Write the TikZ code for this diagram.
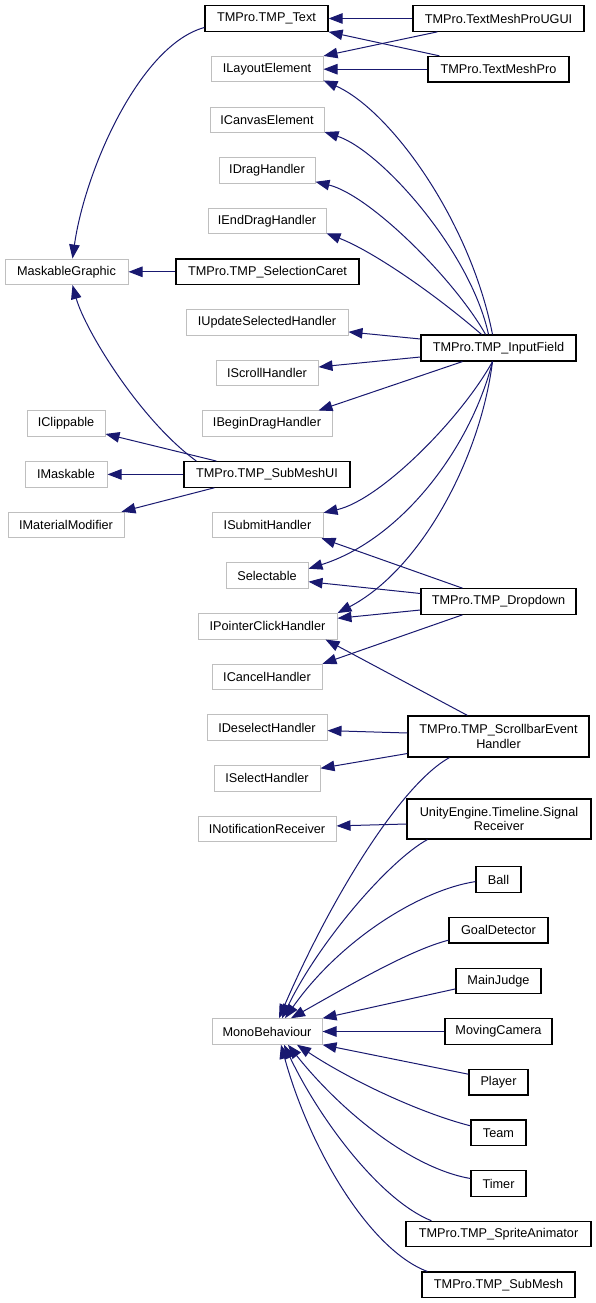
\documentclass[tikz,border=0pt]{standalone}
\usepackage{fontspec}
\setmainfont{Liberation Sans}
\usetikzlibrary{arrows.meta,calc}
\definecolor{edgeblue}{HTML}{191970}
\definecolor{extgray}{HTML}{BFBFBF}
\begin{document}
\begin{tikzpicture}[x=1pt,y=-1pt,
  box/.style={rectangle, inner sep=0pt, minimum height=25.5pt, fill=white,
              font=\fontsize{12.7}{14.5}\selectfont, align=center},
  cls/.style={box, draw=black, line width=1.2pt},
  ext/.style={box, draw=extgray, line width=1pt},
  inh/.style={draw=edgeblue, line width=1pt, -{Triangle[length=14pt,width=10.5pt]}},
]
\fill[white] (0,0) rectangle (596,1303);
\useasboundingbox (0,0) rectangle (596,1303);

% ---- right column: classes of the project ----
\node[cls, minimum width=123pt] (ttext) at (266.5,18.5) {TMPro.TMP\_Text};
\node[cls, minimum width=171pt] (ugui) at (498.5,18.5) {TMPro.TextMeshProUGUI};
\node[cls, minimum width=141pt] (tmpro) at (498.5,69.2) {TMPro.TextMeshPro};
\node[cls, minimum width=183pt] (caret) at (267.5,271.8) {TMPro.TMP\_SelectionCaret};
\node[cls, minimum width=155pt, minimum height=26pt] (ifield) at (498.5,348) {TMPro.TMP\_InputField};
\node[cls, minimum width=166pt] (submeshui) at (267,474.4) {TMPro.TMP\_SubMeshUI};
\node[cls, minimum width=155pt] (dropdown) at (498.5,601.5) {TMPro.TMP\_Dropdown};
\node[cls, minimum width=181pt, minimum height=41pt] (scrollbar) at (498.5,736.5) {TMPro.TMP\_ScrollbarEvent\\Handler};
\node[cls, minimum width=184pt, minimum height=40pt] (signal) at (499,819) {UnityEngine.Timeline.Signal\\Receiver};
\node[cls, minimum width=45pt] (ball) at (498.5,879.6) {Ball};
\node[cls, minimum width=99pt] (goal) at (498.5,930.2) {GoalDetector};
\node[cls, minimum width=85pt] (mainjudge) at (498.5,980.9) {MainJudge};
\node[cls, minimum width=107pt] (movingcam) at (498.5,1031.5) {MovingCamera};
\node[cls, minimum width=59pt] (player) at (498.5,1082.2) {Player};
\node[cls, minimum width=55pt] (team) at (498.5,1132.8) {Team};
\node[cls, minimum width=55pt] (timer) at (498.5,1183.5) {Timer};
\node[cls, minimum width=185pt] (spriteanim) at (498.5,1234.1) {TMPro.TMP\_SpriteAnimator};
\node[cls, minimum width=153pt] (submesh) at (498.5,1284.8) {TMPro.TMP\_SubMesh};

% ---- external base classes and interfaces ----
\node[ext, minimum width=112pt] (ilayout) at (267,69.2) {ILayoutElement};
\node[ext, minimum width=114pt] (icanvas) at (267,119.8) {ICanvasElement};
\node[ext, minimum width=96pt] (idrag) at (267,170.5) {IDragHandler};
\node[ext, minimum width=118pt] (ienddrag) at (267,221.1) {IEndDragHandler};
\node[ext, minimum width=123pt] (mgraphic) at (66.5,271.8) {MaskableGraphic};
\node[ext, minimum width=162pt] (iupdate) at (267,322.4) {IUpdateSelectedHandler};
\node[ext, minimum width=102pt] (iscroll) at (267,373) {IScrollHandler};
\node[ext, minimum width=78pt] (iclip) at (66,423.7) {IClippable};
\node[ext, minimum width=130pt] (ibegin) at (267,423.7) {IBeginDragHandler};
\node[ext, minimum width=82pt] (imask) at (66,474.4) {IMaskable};
\node[ext, minimum width=116pt] (imatmod) at (66,525) {IMaterialModifier};
\node[ext, minimum width=111pt] (isubmit) at (267.5,525) {ISubmitHandler};
\node[ext, minimum width=82pt] (selectable) at (267,575.7) {Selectable};
\node[ext, minimum width=139pt] (iptrclick) at (267.5,626.3) {IPointerClickHandler};
\node[ext, minimum width=110pt] (icancel) at (267,677) {ICancelHandler};
\node[ext, minimum width=120pt] (ideselect) at (267,727.6) {IDeselectHandler};
\node[ext, minimum width=106pt] (iselect) at (267,778.3) {ISelectHandler};
\node[ext, minimum width=138pt] (inotify) at (267,828.9) {INotificationReceiver};
\node[ext, minimum width=110pt] (mono) at (267,1031.5) {MonoBehaviour};

% ---- inheritance arrows (derived -> base) ----
\draw[inh] (ugui.west) -- (ttext.east);
\draw[inh] ($(ugui.south west)+(25,0)$) -- (ilayout.north east);
\draw[inh] ($(tmpro.north west)+(12,0)$) -- (ttext.south east);
\draw[inh] (tmpro.west) -- (ilayout.east);
\draw[inh] ($(ttext.west)+(0,9)$) .. controls (140,45) and (85,170) .. ($(mgraphic.north)+(6,0)$);
\draw[inh] (caret.west) -- (mgraphic.east);

% TMP_InputField
\draw[inh] ($(ifield.north)+(-6,0)$) .. controls (470,220) and (390,110) .. ($(ilayout.south east)+(0,-2)$);
\draw[inh] ($(ifield.north)+(-10,0)$) .. controls (470,250) and (380,150) .. ($(icanvas.south east)+(0,-1)$);
\draw[inh] ($(ifield.north)+(-13,0)$) .. controls (455,280) and (370,195) .. ($(idrag.south east)+(0,-2)$);
\draw[inh] ($(ifield.north)+(-17,0)$) .. controls (430,290) and (370,250) .. ($(ienddrag.south east)+(0,-1)$);
\draw[inh] ($(ifield.west)+(0,-9)$) -- ($(iupdate.east)+(0,9.5)$);
\draw[inh] ($(ifield.west)+(0,9)$) -- ($(iscroll.east)+(0,-6)$);
\draw[inh] ($(ifield.south west)+(42,0)$) -- ($(ibegin.north east)+(-14,0)$);
\draw[inh] ($(ifield.south)+(-6,0)$) .. controls (460,420) and (380,500) .. ($(isubmit.north east)+(0,1)$);
\draw[inh] ($(ifield.south)+(-6,0)$) .. controls (470,450) and (400,540) .. ($(selectable.east)+(0,-7)$);
\draw[inh] ($(ifield.south)+(-6,0)$) .. controls (480,460) and (420,570) .. (iptrclick.north east);

% TMP_SubMeshUI
\draw[inh] ($(submeshui.north west)+(33,0)$) -- ($(iclip.south east)+(0,-3)$);
\draw[inh] (submeshui.west) -- (imask.east);
\draw[inh] ($(submeshui.south west)+(31,0)$) -- ($(imatmod.north east)+(-3,0)$);
\draw[inh] ($(submeshui.north west)+(13,0)$) .. controls (140,420) and (85,330) .. ($(mgraphic.south)+(6,0)$);

% TMP_Dropdown
\draw[inh] ($(dropdown.north west)+(42,0)$) -- ($(isubmit.south east)+(-2,0)$);
\draw[inh] ($(dropdown.west)+(0,-8)$) -- ($(selectable.east)+(0,6)$);
\draw[inh] ($(dropdown.west)+(0,8.5)$) -- ($(iptrclick.east)+(0,-8)$);
\draw[inh] ($(dropdown.south west)+(42,0)$) -- (icancel.north east);

% TMP_ScrollbarEventHandler
\draw[inh] ($(scrollbar.north west)+(60,0)$) -- ($(iptrclick.south east)+(-12,0)$);
\draw[inh] ($(scrollbar.west)+(0,-3.5)$) -- ($(ideselect.east)+(0,3)$);
\draw[inh] ($(scrollbar.west)+(0,17)$) -- ($(iselect.east)+(0,-10)$);
\draw[inh] ($(scrollbar.south west)+(42,0)$) .. controls (400,785) and (330,900) .. ($(mono.north)+(12,0)$);

% SignalReceiver
\draw[inh] ($(signal.west)+(0,5)$) -- ($(inotify.east)+(0,-3)$);
\draw[inh] ($(signal.south west)+(21,0)$) .. controls (390,860) and (320,940) .. ($(mono.north)+(15,0)$);

% MonoBehaviour children
\draw[inh] ($(ball.west)+(0,2)$) .. controls (420,890) and (340,940) .. ($(mono.north)+(18,0)$);
\draw[inh] ($(goal.west)+(0,10)$) .. controls (410,950) and (350,985) .. ($(mono.north)+(24,0)$);
\draw[inh] ($(mainjudge.west)+(0,8)$) -- (mono.north east);
\draw[inh] (movingcam.west) -- (mono.east);
\draw[inh] ($(player.west)+(0,-8)$) -- (mono.south east);
\draw[inh] ($(team.west)+(0,-7)$) .. controls (420,1113) and (350,1080) .. ($(mono.south)+(30,0)$);
\draw[inh] ($(timer.west)+(0,-5)$) .. controls (410,1168) and (340,1110) .. ($(mono.south)+(21,0)$);
\draw[inh] ($(spriteanim.north west)+(26,0)$) .. controls (380,1200) and (320,1120) .. ($(mono.south)+(17,0)$);
\draw[inh] ($(submesh.north west)+(6,0)$) .. controls (370,1250) and (310,1150) .. ($(mono.south)+(14,0)$);
\end{tikzpicture}
\end{document}
